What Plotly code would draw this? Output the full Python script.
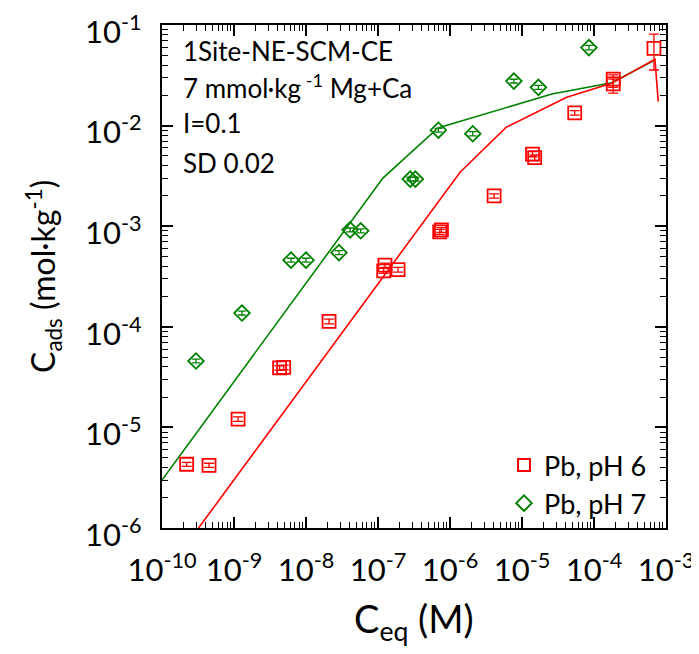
import plotly.graph_objects as go

# Pb, pH 6 data (red squares)
pb6_x = [2.2e-10, 4.5e-10, 1.14e-9, 4.3e-9, 4.9e-9, 2.09e-8, 1.2e-7, 1.25e-7, 1.9e-7,
         7.2e-7, 7.6e-7, 4.1e-6, 1.4e-5, 1.5e-5, 5.4e-5, 1.85e-4, 1.85e-4, 6.8e-4]
pb6_y = [4.3e-6, 4.2e-6, 1.21e-5, 3.9e-5, 3.95e-5, 1.13e-4, 3.6e-4, 4.1e-4, 3.7e-4,
         8.8e-4, 9.2e-4, 2.0e-3, 5.2e-3, 4.8e-3, 1.34e-2, 2.9e-2, 2.6e-2, 5.86e-2]
pb6_err_plus = [0.2e-6, 0.2e-6, 0.6e-6, 2e-6, 2e-6, 6e-6, 2e-5, 2e-5, 2e-5,
                5e-5, 5e-5, 1e-4, 3e-4, 3e-4, 7e-4, 3e-3, 3e-3, 2.24e-2]
pb6_err_minus = [0.2e-6, 0.2e-6, 0.6e-6, 2e-6, 2e-6, 6e-6, 2e-5, 2e-5, 2e-5,
                 5e-5, 5e-5, 1e-4, 3e-4, 3e-4, 7e-4, 5e-3, 5e-3, 2.29e-2]

# Pb, pH 7 data (green diamonds)
pb7_x = [2.96e-10, 1.29e-9, 6.2e-9, 1.0e-8, 2.87e-8, 4.1e-8, 5.75e-8, 2.8e-7, 3.3e-7,
         6.9e-7, 2.07e-6, 7.7e-6, 1.69e-5, 8.5e-5]
pb7_y = [4.57e-5, 1.37e-4, 4.6e-4, 4.6e-4, 5.46e-4, 9.2e-4, 9.0e-4, 2.94e-3, 2.94e-3,
         9.0e-3, 8.3e-3, 2.77e-2, 2.4e-2, 5.96e-2]
pb7_err = [2e-6, 6e-6, 2e-5, 2e-5, 2.5e-5, 4e-5, 4e-5, 1.3e-4, 1.3e-4,
           4e-4, 4e-4, 1.2e-3, 1.1e-3, 3e-3]

# Model lines
fit6_x = [1e-10, 1.38e-6, 6.0e-6, 4.18e-5, 1.76e-4, 7.03e-4, 7.8e-4]
fit6_y = [3.2e-7, 3.44e-3, 9.6e-3, 1.91e-2, 2.63e-2, 4.56e-2, 1.73e-2]
fit7_x = [1e-10, 1.17e-7, 6.8e-7, 2.6e-5, 1.76e-4, 7.0e-4]
fit7_y = [3.0e-6, 3.01e-3, 9.46e-3, 2.06e-2, 2.67e-2, 4.49e-2]

# Tick values and labels
x_tickvals = [1e-10, 1e-9, 1e-8, 1e-7, 1e-6, 1e-5, 1e-4, 1e-3]
x_ticktext = ["10<sup>-10</sup>", "10<sup>-9</sup>", "10<sup>-8</sup>", "10<sup>-7</sup>",
              "10<sup>-6</sup>", "10<sup>-5</sup>", "10<sup>-4</sup>", "10<sup>-3</sup>"]
y_tickvals = [1e-6, 1e-5, 1e-4, 1e-3, 1e-2, 1e-1]
y_ticktext = ["10<sup>-6</sup>", "10<sup>-5</sup>", "10<sup>-4</sup>", "10<sup>-3</sup>",
              "10<sup>-2</sup>", "10<sup>-1</sup>"]

RED = "#ff0000"
GREEN = "#008000"
FONT = "Lato"

# plot area in target-picture pixels
L, R, T, B = 162, 666, 25, 528
PW, PH = R - L, B - T
OFF = 8  # page offset of the figure in the browser


def minor_vals(majors):
    return [m * v for v in majors[:-1] for m in range(2, 10)]


fig = go.Figure()

fig.add_trace(go.Scatter(x=fit7_x, y=fit7_y, mode="lines",
                         line=dict(color=GREEN, width=1.6), showlegend=False))
fig.add_trace(go.Scatter(x=fit6_x, y=fit6_y, mode="lines",
                         line=dict(color=RED, width=1.6), showlegend=False))

fig.add_trace(go.Scatter(
    x=pb6_x, y=pb6_y, mode="markers", showlegend=False,
    marker=dict(symbol="square-open", size=13, color=RED, line=dict(width=1.8)),
    error_y=dict(type="data", symmetric=False, array=pb6_err_plus,
                 arrayminus=pb6_err_minus, color=RED, thickness=1.3, width=5)))
fig.add_trace(go.Scatter(
    x=pb7_x, y=pb7_y, mode="markers", showlegend=False,
    marker=dict(symbol="diamond-open", size=12, color=GREEN, line=dict(width=1.8)),
    error_y=dict(type="data", array=pb7_err, color=GREEN, thickness=1.3, width=4)))

# legend-only traces
fig.add_trace(go.Scatter(x=[None], y=[None], mode="markers", name="Pb, pH 6",
                         marker=dict(symbol="square-open", size=13, color=RED, line=dict(width=1.8))))
fig.add_trace(go.Scatter(x=[None], y=[None], mode="markers", name="Pb, pH 7",
                         marker=dict(symbol="diamond-open", size=11, color=GREEN, line=dict(width=1.8))))

annots = ["1Site-NE-SCM-CE", "7 mmol·kg<sup> -1</sup> Mg+Ca", "I=0.1", "SD 0.02"]
ypos = [51, 86, 123, 163]
for t, yp in zip(annots, ypos):
    fig.add_annotation(text=t, xref="paper", yref="paper", x=(181 - L) / PW,
                       y=1 - (yp - T) / PH, xanchor="left", yanchor="middle",
                       showarrow=False, font=dict(size=26, color="black", family=FONT))

# axis titles
fig.add_annotation(text="C<sub>eq</sub> (M)", xref="paper", yref="paper",
                   x=0.5, y=-(621 - B) / PH, xanchor="center", yanchor="middle",
                   showarrow=False, font=dict(size=38, color="black", family=FONT))
fig.add_annotation(text="C<sub>ads</sub> (mol·kg<sup>-1</sup>)", xref="paper", yref="paper",
                   x=-(L - 43) / PW, y=1 - (277 - T) / PH, xanchor="center", yanchor="middle",
                   textangle=-90, showarrow=False,
                   font=dict(size=32, color="black", family=FONT))

axis_common = dict(
    type="log", showgrid=False, zeroline=False, showline=True, linecolor="black",
    linewidth=2.2, mirror="allticks", ticks="inside", ticklen=11, tickwidth=1.5,
    tickcolor="black", tickmode="array",
    tickfont=dict(size=31, color="black", family=FONT), automargin=False,
    ticklabeloverflow="allow", tickangle=0,
)
minor_common = dict(ticks="inside", ticklen=6, tickwidth=1.2, tickcolor="black",
                    showgrid=False, tickmode="array")

fig.update_layout(
    width=699, height=654,
    margin=dict(l=L - OFF, r=699 - R + OFF, t=T - OFF, b=654 - B + OFF),
    paper_bgcolor="white", plot_bgcolor="white",
    font=dict(family=FONT, color="black"),
    xaxis=dict(range=[-10, -3], tickvals=x_tickvals, ticktext=x_ticktext,
               ticklabelstandoff=14,
               minor=dict(tickvals=minor_vals(x_tickvals), **minor_common), **axis_common),
    yaxis=dict(range=[-6, -1], tickvals=y_tickvals, ticktext=y_ticktext,
               ticklabelstandoff=12, ticklabelshift=7,
               minor=dict(tickvals=minor_vals(y_tickvals), **minor_common), **axis_common),
    legend=dict(x=(652 - L) / PW, y=0.0, xanchor="right", yanchor="bottom",
                bgcolor="rgba(0,0,0,0)", font=dict(size=27, family=FONT),
                itemsizing="constant", tracegroupgap=0, itemwidth=30),
)

fig.write_html("out.html")
